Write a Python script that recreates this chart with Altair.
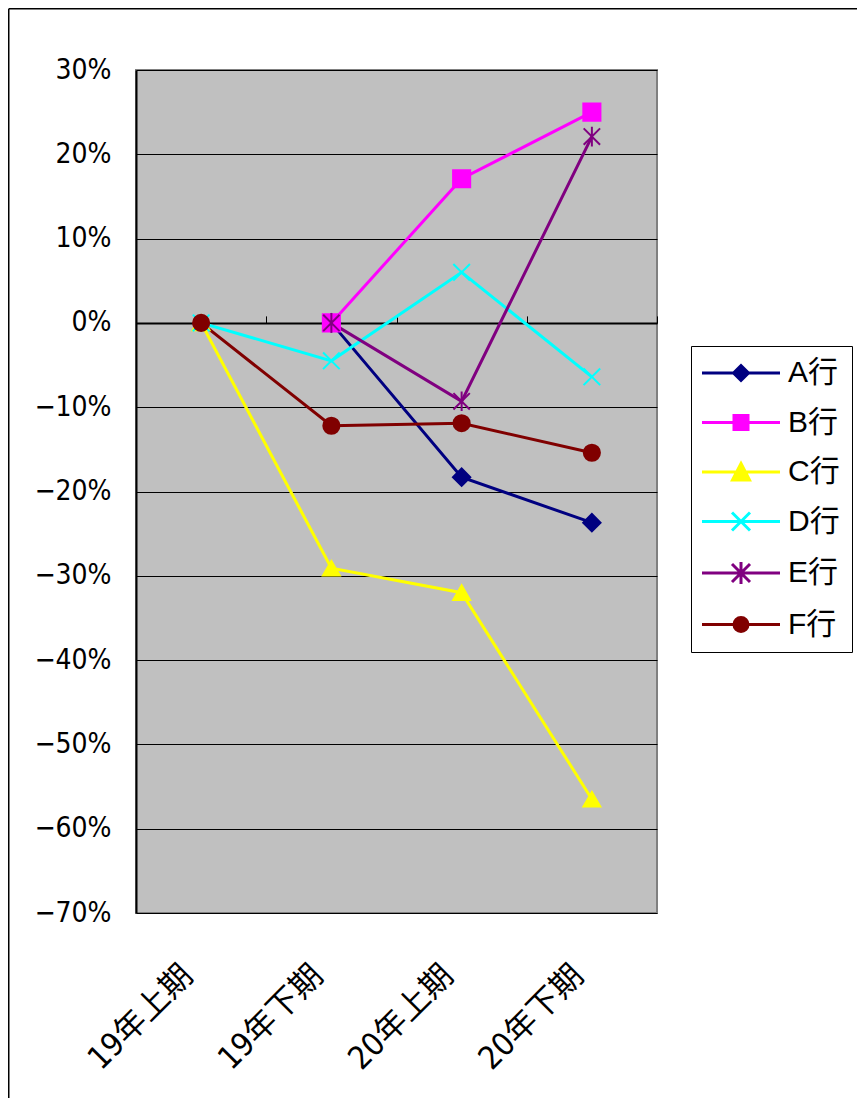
import altair as alt
import pandas as pd

categories = ["19年上期", "19年下期", "20年上期", "20年下期"]
series_names = ["A行", "B行", "C行", "D行", "E行", "F行"]
series_colors = ["#000080", "#FF00FF", "#FFFF00", "#00FFFF", "#800080", "#800000"]

A_vals = [None, 0.0, -0.183, -0.237]
B_vals = [None, 0.0, 0.171, 0.250]
C_vals = [0.0, -0.291, -0.320, -0.565]
D_vals = [0.0, -0.045, 0.060, -0.064]
E_vals = [None, 0.0, -0.093, 0.221]
F_vals = [0.0, -0.122, -0.119, -0.154]

y_ticks = [0.3, 0.2, 0.1, 0.0, -0.1, -0.2, -0.3, -0.4, -0.5, -0.6, -0.7]

# plot markers
X_PATH = "M-1,-1L1,1M-1,1L1,-1"
STAR_PATH = "M-1,-1L1,1M-1,1L1,-1M0,-1.2L0,1.2"
plot_shapes = ["diamond", "square", "triangle-up", X_PATH, STAR_PATH, "circle"]
plot_sizes = [300, 260, 400, 324, 324, 260]

# legend symbols: line + marker
LN = "M-3.9,0L3.9,0"
legend_shapes = [
    LN + "M-0.75,0L0,-0.75L0.75,0L0,0.75Z",
    LN + "M-0.7,-0.7L0.7,-0.7L0.7,0.7L-0.7,0.7Z",
    LN + "M0,-0.85L0.85,0.8L-0.85,0.8Z",
    LN + "M-0.9,-0.9L0.9,0.9M-0.9,0.9L0.9,-0.9",
    LN + "M-0.9,-0.9L0.9,0.9M-0.9,0.9L0.9,-0.9M0,-1.1L0,1.1",
    LN + "M-0.7,0A0.7,0.7,0,1,1,0.7,0A0.7,0.7,0,1,1,-0.7,0Z",
]

rows = []
for name, vals in zip(series_names, [A_vals, B_vals, C_vals, D_vals, E_vals, F_vals]):
    for i, (cat, v) in enumerate(zip(categories, vals)):
        if v is not None:
            rows.append({"series": name, "cat": cat, "idx": i, "value": v})
df = pd.DataFrame(rows)

W, H = 521, 843
PAD_L, PAD_T = 128, 62
Y_MIN, Y_MAX = -0.7, 0.3
zero_pos = H * Y_MAX / (Y_MAX - Y_MIN)
step = W / len(categories)

FONT = "Liberation Sans Narrow, DejaVu Sans Condensed, Noto Sans CJK JP"
LFONT = "Liberation Sans, Noto Sans CJK JP"

x_scale = alt.Scale(type="point", domain=categories, padding=0.5)
y_scale = alt.Scale(domain=[Y_MIN, Y_MAX], nice=False, zero=False)

y_axis = alt.Axis(
    values=y_ticks, format=".0%", grid=True, gridColor="#000000", gridWidth=1,
    gridOpacity=1, domain=True, domainColor="#000000", domainWidth=2, ticks=False,
    labelPadding=25, labelFont=FONT, labelFontSize=28, labelColor="#000000",
    title=None,
)

frame_top = alt.Chart(pd.DataFrame({"a": [0]})).mark_rule(
    color="#000000", strokeWidth=1.5
).encode(x=alt.value(-PAD_L + 0.75), x2=alt.value(900), y=alt.value(-PAD_T + 0.75))

frame_left = alt.Chart(pd.DataFrame({"a": [0]})).mark_rule(
    color="#000000", strokeWidth=1.5
).encode(x=alt.value(-PAD_L + 0.75), y=alt.value(-PAD_T + 0.75), y2=alt.value(1200))

lines = alt.Chart(df).mark_line(strokeWidth=3).encode(
    x=alt.X("cat:N", scale=x_scale, sort=categories, axis=alt.Axis(
        domain=False, ticks=False, grid=False, labelAngle=-45, labelAlign="right",
        labelBaseline="middle", labelPadding=57, labelOffset=-14, labelOverlap=False,
        labelFont=FONT, labelFontSize=32, labelColor="#000000", title=None,
    )),
    y=alt.Y("value:Q", scale=y_scale, axis=y_axis),
    color=alt.Color("series:N", scale=alt.Scale(domain=series_names, range=series_colors), legend=None),
    order=alt.Order("idx:Q"),
)

points = alt.Chart(df).mark_point(filled=True, strokeWidth=2, opacity=1).encode(
    x=alt.X("cat:N", scale=x_scale, sort=categories, axis=alt.Axis(
        orient="top", offset=-zero_pos, labels=False, ticks=True, tickSize=7,
        tickColor="#000000", tickWidth=1, tickOffset=step / 2, domain=True,
        domainColor="#000000", domainWidth=2, grid=False, title=None,
    )),
    y=alt.Y("value:Q", scale=y_scale),
    color=alt.Color("series:N", scale=alt.Scale(domain=series_names, range=series_colors), legend=None),
    stroke=alt.Stroke("series:N", scale=alt.Scale(domain=series_names, range=series_colors), legend=None),
    shape=alt.Shape("series:N", scale=alt.Scale(domain=series_names, range=plot_shapes), legend=None),
    size=alt.Size("series:N", scale=alt.Scale(domain=series_names, range=plot_sizes), legend=None),
)

legend_df = pd.DataFrame({"series": series_names, "v": [None] * len(series_names)})
legend_spec = alt.Legend(
    title=None, orient="none", legendX=555, legendY=276, strokeColor="#000000",
    fillColor="#FFFFFF", padding=12, rowPadding=19.5, labelOffset=32, symbolOffset=23,
    labelFont=LFONT, labelFontSize=30, labelColor="#000000", symbolSize=400,
    symbolStrokeWidth=3, symbolOpacity=1, labelLimit=200,
)
legend_layer = alt.Chart(legend_df).mark_point(filled=True, strokeWidth=3, opacity=1).encode(
    y=alt.Y("v:Q", scale=y_scale),
    color=alt.Color("series:N", scale=alt.Scale(domain=series_names, range=series_colors), legend=legend_spec),
    stroke=alt.Stroke("series:N", scale=alt.Scale(domain=series_names, range=series_colors), legend=legend_spec),
    shape=alt.Shape("series:N", scale=alt.Scale(domain=series_names, range=legend_shapes), legend=legend_spec),
)

chart = alt.layer(frame_top, frame_left, lines, points, legend_layer).resolve_scale(
    color="independent", stroke="independent", shape="independent", size="independent"
).resolve_axis(x="independent").properties(
    width=W, height=H,
    padding={"left": PAD_L, "top": PAD_T, "right": 200, "bottom": 185},
    autosize=alt.AutoSizeParams(type="none"),
    background="#FFFFFF",
).configure_view(
    fill="#C0C0C0", stroke="#808080", strokeWidth=2
)

chart.save("out.html", embed_options={"renderer": "svg", "actions": False})
